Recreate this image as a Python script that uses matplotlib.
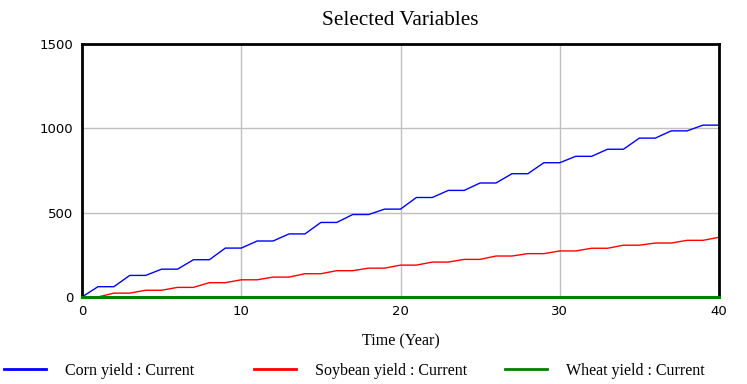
import matplotlib
matplotlib.use("Agg")
import matplotlib.pyplot as plt
import numpy as np

plt.rcParams['font.family'] = ['Liberation Serif', 'DejaVu Serif']

years = np.arange(0, 41)
corn = [0, 61, 61, 128, 128, 165, 165, 221, 221, 290, 290, 332, 332, 374, 374,
        442, 442, 489, 489, 521, 521, 590, 590, 632, 632, 676, 676, 731, 731,
        796, 796, 834, 834, 876, 876, 942, 942, 985, 985, 1019, 1019]
soybean = [0, 0, 23, 23, 40, 40, 57, 57, 85, 85, 102, 102, 118, 118, 138, 138,
           156, 156, 171, 171, 189, 189, 207, 207, 223, 223, 243, 243, 257, 257,
           273, 273, 289, 289, 307, 307, 320, 320, 336, 336, 354]
wheat = [0] * 41
labels = ["Corn yield : Current", "Soybean yield : Current", "Wheat yield : Current"]
colors = ["#0000ff", "#ff0000", "#008000"]

fig = plt.figure(figsize=(7.47, 3.84), dpi=100)
ax = fig.add_axes([82/747, 1-297/384, (719-82)/747, (297-44)/384])

l1, = ax.plot(years, corn, color=colors[0], lw=1.0)
l2, = ax.plot(years, soybean, color=colors[1], lw=1.0)
l3, = ax.plot(years, wheat, color=colors[2], lw=2.2, clip_on=False, zorder=5)

ax.set_xlim(0, 40)
ax.set_ylim(0, 1500)
ax.set_xticks([0, 10, 20, 30, 40])
ax.set_yticks([0, 500, 1000, 1500])
ax.grid(True, color="#c0c0c0", lw=1.0)
ax.set_axisbelow(True)
ax.tick_params(length=0, labelsize=9.5, pad=6)
for t in ax.get_xticklabels() + ax.get_yticklabels():
    t.set_family("DejaVu Sans")
for s in ax.spines.values():
    s.set_linewidth(2)
    s.set_color("black")

ax.set_title("Selected Variables", fontsize=15.3, pad=14)
ax.set_xlabel("Time (Year)", fontsize=11.6, labelpad=11)

xs = [4/747, 254/747, 505/747]
for h, lab, x in zip([l1, l2, l3], labels, xs):
    leg = fig.legend([plt.Line2D([], [], color=h.get_color(), lw=2)], [lab],
                     loc="center left", bbox_to_anchor=(x, 1-371/384),
                     frameon=False, fontsize=11.5, handlelength=2.6,
                     handletextpad=1.2, borderaxespad=0, borderpad=0)

fig.savefig("out.png", dpi=100)
